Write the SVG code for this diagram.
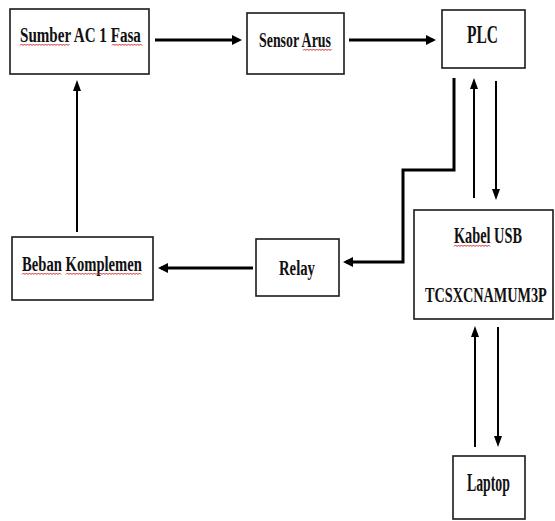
<svg xmlns="http://www.w3.org/2000/svg" width="555" height="521" viewBox="0 0 555 521">
<style>
  .box { fill: #ffffff; stroke: #1a1a1a; stroke-width: 1.6; }
  .lbl { font-family: "Liberation Serif", "Times New Roman", serif; font-weight: bold; fill: #111; }
  .thick { fill: none; stroke: #000; stroke-width: 3; }
  .thin { fill: none; stroke: #000; stroke-width: 2; }
  .sq { fill: none; stroke: #d42a2a; stroke-width: 1; }
</style>
<defs>
  <marker id="ahT" viewBox="0 0 10 10" refX="7" refY="5" markerWidth="10" markerHeight="10" markerUnits="userSpaceOnUse" orient="auto">
    <path d="M0,0 L10,5 L0,10 z" fill="#000"/>
  </marker>
  <marker id="ahN" viewBox="0 0 11 8" refX="8" refY="4" markerWidth="11" markerHeight="8" markerUnits="userSpaceOnUse" orient="auto">
    <path d="M0,0 L11,4 L0,8 z" fill="#000"/>
  </marker>
</defs>
<rect width="555" height="521" fill="#ffffff"/>

<g id="connectors">
  <line class="thick" x1="155" y1="40" x2="239" y2="40" marker-end="url(#ahT)"/>
  <line class="thick" x1="349" y1="40" x2="433" y2="40" marker-end="url(#ahT)"/>
  <polyline class="thick" points="454,78 454,170 403,170 403,262 346,262" marker-end="url(#ahT)"/>
  <line class="thick" x1="253" y1="268" x2="161" y2="268" marker-end="url(#ahT)"/>
  <line class="thin" x1="77" y1="232" x2="77" y2="83" marker-end="url(#ahN)"/>
  <line class="thin" x1="474" y1="198" x2="474" y2="81" marker-end="url(#ahN)"/>
  <line class="thin" x1="496" y1="81" x2="496" y2="197" marker-end="url(#ahN)"/>
  <line class="thin" x1="475" y1="447" x2="475" y2="329" marker-end="url(#ahN)"/>
  <line class="thin" x1="498" y1="327" x2="498" y2="444" marker-end="url(#ahN)"/>
</g>

<g id="sumber">
  <rect class="box" x="10" y="9" width="139" height="65"/>
  <text class="lbl" font-size="22" transform="translate(20,42) scale(0.686,1)">Sumber AC 1 Fasa</text>
  <path class="sq" d="M20,45.5 l1.5,-1.5 l1.5,1.5 l1.5,-1.5 l1.5,1.5 l1.5,-1.5 l1.5,1.5 l1.5,-1.5 l1.5,1.5 l1.5,-1.5 l1.5,1.5 l1.5,-1.5 l1.5,1.5 l1.5,-1.5 l1.5,1.5 l1.5,-1.5 l1.5,1.5 l1.5,-1.5 l1.5,1.5 l1.5,-1.5 l1.5,1.5 l1.5,-1.5 l1.5,1.5 l1.5,-1.5 l1.5,1.5 l1.5,-1.5 l1.5,1.5 l1.5,-1.5 l1.5,1.5 l1.5,-1.5 l1.5,1.5 l1.5,-1.5 l1.5,1.5 l1.5,-1.5"/>
  <path class="sq" d="M112,45.5 l1.5,-1.5 l1.5,1.5 l1.5,-1.5 l1.5,1.5 l1.5,-1.5 l1.5,1.5 l1.5,-1.5 l1.5,1.5 l1.5,-1.5 l1.5,1.5 l1.5,-1.5 l1.5,1.5 l1.5,-1.5 l1.5,1.5 l1.5,-1.5 l1.5,1.5 l1.5,-1.5 l1.5,1.5 l1.5,-1.5 l1.5,1.5"/>
</g>

<g id="sensor">
  <rect class="box" x="247" y="13" width="97" height="61"/>
  <text class="lbl" font-size="22" transform="translate(259,47) scale(0.632,1)">Sensor Arus</text>
  <path class="sq" d="M303,50.5 l1.5,-1.5 l1.5,1.5 l1.5,-1.5 l1.5,1.5 l1.5,-1.5 l1.5,1.5 l1.5,-1.5 l1.5,1.5 l1.5,-1.5 l1.5,1.5 l1.5,-1.5 l1.5,1.5 l1.5,-1.5 l1.5,1.5 l1.5,-1.5 l1.5,1.5 l1.5,-1.5 l1.5,1.5 l1.5,-1.5"/>
</g>

<g id="plc">
  <rect class="box" x="442" y="10" width="83" height="58"/>
  <text class="lbl" font-size="26" transform="translate(467,43) scale(0.596,1)">PLC</text>
</g>

<g id="kabel-usb">
  <rect class="box" x="414" y="210" width="139" height="109"/>
  <text class="lbl" font-size="23" transform="translate(454,243) scale(0.622,1)">Kabel USB</text>
  <path class="sq" d="M454,246.5 l1.5,-1.5 l1.5,1.5 l1.5,-1.5 l1.5,1.5 l1.5,-1.5 l1.5,1.5 l1.5,-1.5 l1.5,1.5 l1.5,-1.5 l1.5,1.5 l1.5,-1.5 l1.5,1.5 l1.5,-1.5 l1.5,1.5 l1.5,-1.5 l1.5,1.5 l1.5,-1.5 l1.5,1.5 l1.5,-1.5 l1.5,1.5 l1.5,-1.5 l1.5,1.5 l1.5,-1.5 l1.5,1.5"/>
  <text class="lbl" font-size="22" transform="translate(425,302) scale(0.648,1)">TCSXCNAMUM3P</text>
</g>

<g id="beban">
  <rect class="box" x="12" y="237" width="141" height="63"/>
  <text class="lbl" font-size="21" transform="translate(22,271) scale(0.697,1)">Beban Komplemen</text>
  <path class="sq" d="M22,274.5 l1.5,-1.5 l1.5,1.5 l1.5,-1.5 l1.5,1.5 l1.5,-1.5 l1.5,1.5 l1.5,-1.5 l1.5,1.5 l1.5,-1.5 l1.5,1.5 l1.5,-1.5 l1.5,1.5 l1.5,-1.5 l1.5,1.5 l1.5,-1.5 l1.5,1.5 l1.5,-1.5 l1.5,1.5 l1.5,-1.5 l1.5,1.5 l1.5,-1.5 l1.5,1.5 l1.5,-1.5 l1.5,1.5 l1.5,-1.5 l1.5,1.5"/>
  <path class="sq" d="M66,274.5 l1.5,-1.5 l1.5,1.5 l1.5,-1.5 l1.5,1.5 l1.5,-1.5 l1.5,1.5 l1.5,-1.5 l1.5,1.5 l1.5,-1.5 l1.5,1.5 l1.5,-1.5 l1.5,1.5 l1.5,-1.5 l1.5,1.5 l1.5,-1.5 l1.5,1.5 l1.5,-1.5 l1.5,1.5 l1.5,-1.5 l1.5,1.5 l1.5,-1.5 l1.5,1.5 l1.5,-1.5 l1.5,1.5 l1.5,-1.5 l1.5,1.5 l1.5,-1.5 l1.5,1.5 l1.5,-1.5 l1.5,1.5 l1.5,-1.5 l1.5,1.5 l1.5,-1.5 l1.5,1.5 l1.5,-1.5 l1.5,1.5 l1.5,-1.5 l1.5,1.5 l1.5,-1.5 l1.5,1.5 l1.5,-1.5 l1.5,1.5 l1.5,-1.5 l1.5,1.5 l1.5,-1.5 l1.5,1.5 l1.5,-1.5 l1.5,1.5 l1.5,-1.5 l1.5,1.5"/>
</g>

<g id="relay">
  <rect class="box" x="256" y="239" width="83" height="57"/>
  <text class="lbl" font-size="20" transform="translate(279,275) scale(0.736,1)">Relay</text>
</g>

<g id="laptop">
  <rect class="box" x="453" y="456" width="72" height="63"/>
  <text class="lbl" font-size="26" transform="translate(467,491) scale(0.531,1)">Laptop</text>
</g>
</svg>
